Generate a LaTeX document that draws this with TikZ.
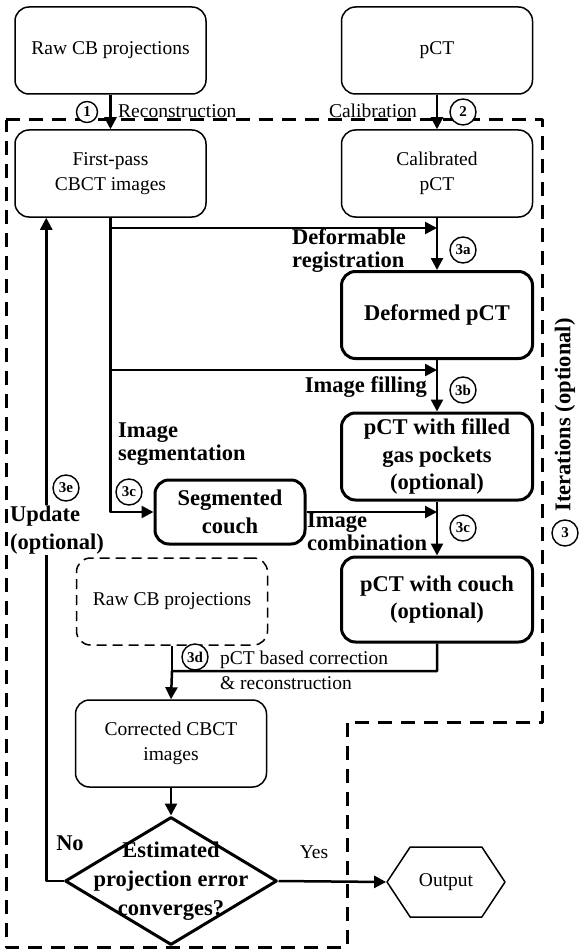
\documentclass[tikz,border=0pt]{standalone}
\usepackage{fontspec}
\setmainfont{Liberation Serif}
\usetikzlibrary{arrows.meta, shapes.geometric, shapes.symbols}
\newcommand\nsize{\fontsize{19.5}{25}\selectfont}
\newcommand\bsize{\fontsize{22.5}{27.5}\selectfont\bfseries}
\tikzset{
  >={Triangle[length=12pt, width=12pt]},
  every picture/.style={line join=round},
  box/.style={draw, line width=1.5pt, rounded corners=14pt, align=center, font=\nsize,
    inner sep=0pt, minimum width=191pt, minimum height=87pt},
  boldbox/.style={box, line width=3pt, font=\bsize},
  decision/.style={diamond, draw, line width=3pt, inner sep=0pt, minimum width=212pt, minimum height=128pt},
  outbox/.style={signal, signal to=east and west, signal pointer angle=113, draw, line width=1.5pt,
    font=\nsize, minimum width=118pt, minimum height=70pt},
  flow/.style={->, line width=2.5pt},
  numc/.style={circle, draw, line width=1.4pt, fill=white, inner sep=0pt, minimum size=26pt,
    font=\fontsize{15}{15}\selectfont\bfseries},
  lbl/.style={font=\nsize, inner sep=1pt},
  blbl/.style={font=\fontsize{22.5}{23}\selectfont\bfseries, inner sep=1pt, align=left},
  % iteration frame
  frame/.style={line width=3pt, dash pattern=on 14pt off 9pt},
}

\begin{document}
\begin{tikzpicture}[x=1pt, y=-1pt]
  \useasboundingbox (0,0) rectangle (580,952);
  \draw[frame] (6,120) -- (542,120) -- (542,722) -- (347,722) -- (347,947) -- (6,947) -- cycle;
  % boxes
  \node[box] (raw) at (110.5,50.5) {Raw CB projections};
  \node[box] (pct) at (437,50.5) {pCT};
  \node[box] (first) at (110.5,173.5) {First-pass\\CBCT images};
  \node[box] (calib) at (437,173.5) {Calibrated\\pCT};
  \node[boldbox] (deformed) at (437,315) {Deformed pCT};
  \node[boldbox] (filled) at (437,456.5) {pCT with filled\\gas pockets\\(optional)};
  \node[boldbox, minimum height=85pt] (couchpct) at (437,599.5) {pCT with couch\\(optional)};
  \node[boldbox, minimum width=150pt, minimum height=64pt] (segcouch) at (230,512) {Segmented\\couch};
  \node[box, dash pattern=on 10pt off 6pt] (rawagain) at (172,601.5) {Raw CB projections};
  \node[box] (corrected) at (171,743.5) {Corrected CBCT\\images};
  \node[decision] (conv) at (171,881) {};
  \node[blbl, align=center, font=\fontsize{22.5}{29}\selectfont\bfseries] (convtext) at (conv) {Estimated\\projection error\\converges?};
  \node[outbox] (output) at (446,882) {Output};
  % joints
  \coordinate (regjoin) at (437,228);
  \coordinate (filljoin) at (437,370);
  \coordinate (combjoin) at (437,512);
  \coordinate (corrjoin) at (172,671);
  % connectors
  \draw[flow] (raw.south) -- (first.north);
  \draw[flow] (pct.south) -- (calib.north);
  \draw[flow] (calib.south) -- (deformed.north);
  \draw[flow] (deformed.south) -- (filled.north);
  \draw[flow] (filled.south) -- (couchpct.north);
  \draw[flow] (first.south) |- (segcouch.west);
  \draw[flow] (first.south |- regjoin) -- (regjoin);
  \draw[flow] (first.south |- filljoin) -- (filljoin);
  \draw[flow] (segcouch.east) -- (combjoin);
  \draw[flow] (couchpct.south) |- (corrjoin) -- (corrected.north);
  \draw[line width=2.5pt] (rawagain.south) -- (corrjoin);
  \draw[flow] (corrected.south) -- (conv.north);
  \draw[flow] (conv.east) -- (output.west);
  \draw[flow] (conv.west) -| ([xshift=32pt]first.south west);
  % labels
  \node[lbl, anchor=west] (reconlbl) at (117,111) {Reconstruction};
  \node[lbl, anchor=east] (caliblbl) at (418,111) {Calibration};
  \node[numc, minimum size=21pt] (n1) at (87,112) {1};
  \node[numc] (n2) at (463,112) {2};
  \node[blbl, anchor=west] (reglbl) at (291,251) {Deformable\\registration};
  \node[numc] (n3a) at (463,250) {3a};
  \node[blbl, anchor=east] (filllbl) at (428,387) {Image filling};
  \node[numc] (n3b) at (463,390) {3b};
  \node[blbl, anchor=west] (seglbl) at (117,444) {Image\\segmentation};
  \node[numc] (n3c) at (129,492) {3c};
  \node[blbl, anchor=west] (comblbl) at (306,532) {Image\\combination};
  \node[numc] (n3cc) at (463,528) {3c};
  \node[numc] (n3d) at (195,657) {3d};
  \node[lbl, anchor=west, align=left] (corrlbl) at (219,670) {pCT based correction\\\& reconstruction};
  \node[numc] (n3e) at (66,488) {3e};
  \node[blbl, anchor=west, fill=white, font=\bsize] (updlbl) at (9,530) {Update\\(optional)};
  \node[blbl] (nolbl) at (70,843) {No};
  \node[lbl] (yeslbl) at (314,852) {Yes};
  \node[blbl, rotate=90] (iterlbl) at (565,415) {Iterations (optional)};
  \node[numc] (n3) at (565,533) {3};
\end{tikzpicture}
\end{document}
